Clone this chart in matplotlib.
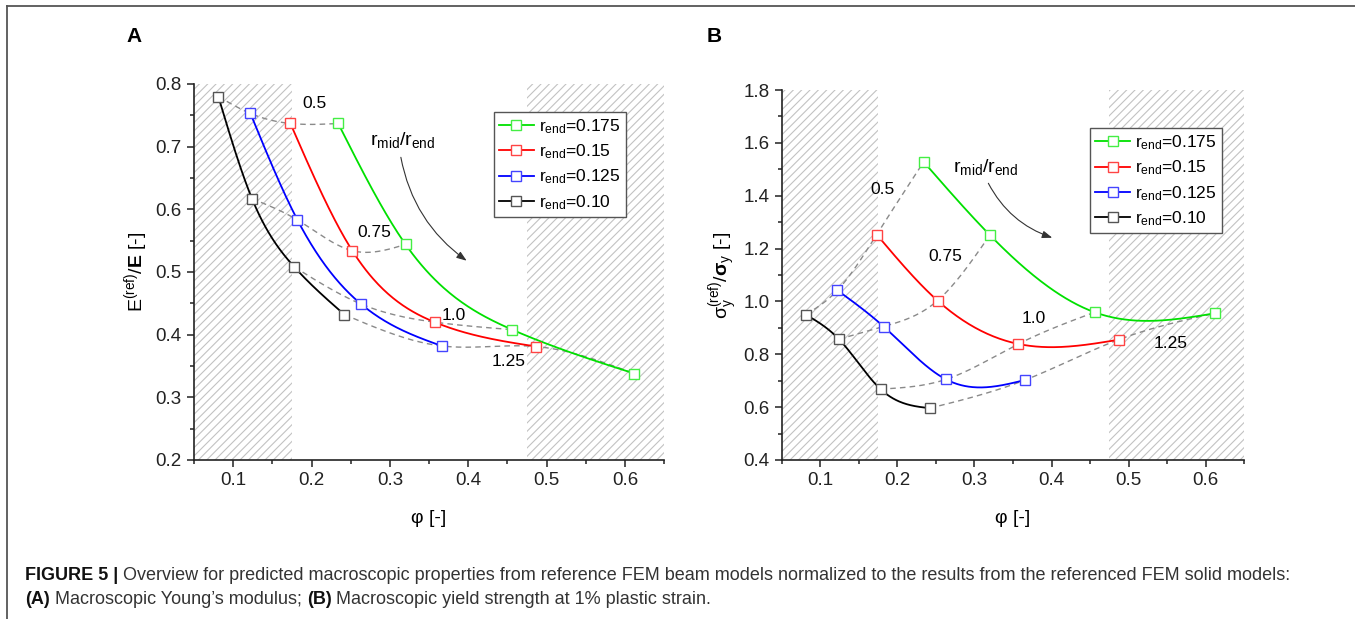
import numpy as np
import matplotlib
matplotlib.use("Agg")
import matplotlib.pyplot as plt
from matplotlib.lines import Line2D

plt.rcParams['font.family'] = ['Liberation Sans', 'DejaVu Sans']
plt.rcParams['mathtext.fontset'] = 'custom'
plt.rcParams['mathtext.rm'] = 'Liberation Sans'
plt.rcParams['mathtext.it'] = 'Liberation Sans:italic'
plt.rcParams['mathtext.bf'] = 'Liberation Sans:bold'
plt.rcParams['hatch.linewidth'] = 0.8

# data (porosity phi, normalized E and sigma_y)
r_end_labels = ["0.175", "0.15", "0.125", "0.10"]
ratio_labels = ["0.5", "0.75", "1.0", "1.25"]

phi_0175 = [0.234, 0.320, 0.456, 0.612]
phi_015 = [0.173, 0.252, 0.357, 0.487]
phi_0125 = [0.122, 0.182, 0.263, 0.366]
phi_010 = [0.081, 0.124, 0.178, 0.242]

E_0175 = [0.737, 0.544, 0.408, 0.338]
E_015 = [0.737, 0.534, 0.420, 0.381]
E_0125 = [0.753, 0.583, 0.449, 0.382]
E_010 = [0.780, 0.617, 0.508, 0.432]

S_0175 = [1.528, 1.251, 0.959, 0.955]
S_015 = [1.253, 1.003, 0.839, 0.855]
S_0125 = [1.042, 0.905, 0.705, 0.703]
S_010 = [0.950, 0.857, 0.668, 0.596]

line_colors = ['#00e000', '#ff0000', '#0000ff', '#000000']
marker_colors = ['#44ee44', '#ff4444', '#4444ff', '#555555']


def spline(x, y, n=200):
    # natural cubic spline, like the smoothed lines in Origin
    x = np.asarray(x, float)
    y = np.asarray(y, float)
    m = len(x)
    h = np.diff(x)
    A = np.zeros((m, m))
    b = np.zeros(m)
    A[0, 0] = A[-1, -1] = 1
    for i in range(1, m - 1):
        A[i, i - 1] = h[i - 1]
        A[i, i] = 2 * (h[i - 1] + h[i])
        A[i, i + 1] = h[i]
        b[i] = 3 * ((y[i + 1] - y[i]) / h[i] - (y[i] - y[i - 1]) / h[i - 1])
    c = np.linalg.solve(A, b)
    xs = np.linspace(x[0], x[-1], n)
    idx = np.clip(np.searchsorted(x, xs) - 1, 0, m - 2)
    dx = xs - x[idx]
    bc = (y[idx + 1] - y[idx]) / h[idx] - h[idx] * (2 * c[idx] + c[idx + 1]) / 3
    d = (c[idx + 1] - c[idx]) / (3 * h[idx])
    return xs, y[idx] + bc * dx + c[idx] * dx ** 2 + d * dx ** 3


fig = plt.figure(figsize=(13.55, 6.19), dpi=100)
axA = fig.add_axes([0.1432, 0.2569, 0.3469, 0.6074])
axB = fig.add_axes([0.5771, 0.2569, 0.3410, 0.5977])


def panel(ax, phis, vals, ylim, ymajor, yminor, ylabel, legend_anchor,
          ratio_pos, text_pos, arrow_start, arrow_end):
    ax.axvspan(0.05, 0.175, facecolor='none', edgecolor='#c2c2c2', hatch='////', lw=0, zorder=0)
    ax.axvspan(0.475, 0.65, facecolor='none', edgecolor='#c2c2c2', hatch='////', lw=0, zorder=0)

    # iso r_mid/r_end dashed lines (order: 0.10, 0.125, 0.15, 0.175)
    for k in range(4):
        px = [p[k] for p in phis[::-1]]
        py = [v[k] for v in vals[::-1]]
        xs, ys = spline(px, py)
        ax.plot(xs, ys, color='#8a8a8a', lw=1, dashes=(4, 3), zorder=2)
        ax.text(ratio_pos[k][0], ratio_pos[k][1], ratio_labels[k], fontsize=12.5,
                ha='center', va='center', zorder=5)

    handles = []
    for p, v, lc, mc, lab in zip(phis, vals, line_colors, marker_colors, r_end_labels):
        xs, ys = spline(p, v)
        ax.plot(xs, ys, color=lc, lw=1.3, zorder=3)
        ax.plot(p, v, ls='none', marker='s', ms=6.5, mfc='white', mec=mc, mew=1, zorder=4)
        handles.append(Line2D([], [], color=lc, lw=1.3, marker='s', ms=6.5, mfc='white', mec=mc, mew=1,
                              label=r'$\mathrm{r_{end}}$=' + lab))

    leg = ax.legend(handles=handles, loc='upper left', bbox_to_anchor=legend_anchor, fontsize=12.5,
                    frameon=True, fancybox=False, edgecolor='#555555', framealpha=1,
                    handlelength=2.0, handletextpad=0.3, labelspacing=0.38, borderpad=0.3,
                    borderaxespad=0)
    leg.get_frame().set_linewidth(1)
    leg.set_zorder(6)

    ax.text(text_pos[0], text_pos[1], r'$\mathrm{r_{mid}/r_{end}}$', fontsize=14,
            ha='center', va='center', zorder=5)
    ax.annotate('', xy=arrow_end, xytext=arrow_start,
                arrowprops=dict(arrowstyle='-|>,head_length=0.6,head_width=0.22', color='#333333',
                                lw=0.8, connectionstyle='arc3,rad=0.2', shrinkA=0, shrinkB=0))

    ax.set_xlim(0.05, 0.65)
    ax.set_ylim(*ylim)
    ax.set_xticks([0.1, 0.2, 0.3, 0.4, 0.5, 0.6])
    ax.set_xticks(np.arange(0.05, 0.651, 0.05), minor=True)
    ax.set_yticks(ymajor)
    ax.set_yticks(yminor, minor=True)
    ax.set_xticklabels(['0.1', '0.2', '0.3', '0.4', '0.5', '0.6'])
    ax.set_yticklabels(['%.1f' % t for t in ymajor])
    ax.spines['top'].set_visible(False)
    ax.spines['right'].set_visible(False)
    for s in ('left', 'bottom'):
        ax.spines[s].set_linewidth(1.2)
        ax.spines[s].set_color('#222222')
    ax.tick_params(which='major', direction='out', length=5, width=1.1, labelsize=13.5, pad=4,
                   colors='#222222')
    ax.tick_params(which='minor', direction='out', length=3, width=1.1, colors='#222222')
    ax.set_xlabel('φ [-]', fontsize=14)
    ax.set_ylabel(ylabel, fontsize=14)


panel(axA, [phi_0175, phi_015, phi_0125, phi_010], [E_0175, E_015, E_0125, E_010],
      (0.2, 0.8), np.round(np.arange(0.2, 0.81, 0.1), 2), np.round(np.arange(0.25, 0.8, 0.1), 2),
      r'$\mathrm{E^{(ref)}}/\mathbf{E}$ [-]', (0.638, 0.926),
      [(0.204, 0.769), (0.280, 0.563), (0.381, 0.431), (0.451, 0.357)],
      (0.316, 0.711), (0.314, 0.683), (0.398, 0.518))
panel(axB, [phi_0175, phi_015, phi_0125, phi_010], [S_0175, S_015, S_0125, S_010],
      (0.4, 1.8), np.round(np.arange(0.4, 1.81, 0.2), 2), np.round(np.arange(0.5, 1.8, 0.2), 2),
      r'$\mathrm{σ_y^{(ref)}}/\mathbf{σ}_\mathrm{y}$ [-]', (0.667, 0.897),
      [(0.180, 1.425), (0.262, 1.169), (0.377, 0.936), (0.555, 0.842)],
      (0.315, 1.507), (0.318, 1.447), (0.401, 1.241))

axA.yaxis.set_label_coords(-0.094, 0.5)
axB.yaxis.set_label_coords(-0.091, 0.5)
axA.xaxis.set_label_coords(0.5, -0.133)
axB.xaxis.set_label_coords(0.5, -0.135)

W, H = 1355, 619
fig.text(134 / W, 1 - 36 / H, 'A', fontsize=15, fontweight='bold', ha='center', va='center')
fig.text(714 / W, 1 - 36 / H, 'B', fontsize=15, fontweight='bold', ha='center', va='center')

# frame lines at top and left
fig.add_artist(Line2D([7 / W, 1], [1 - 6 / H, 1 - 6 / H], color='#555555', lw=1.3))
fig.add_artist(Line2D([7 / W, 7 / W], [0, 1 - 6 / H], color='#555555', lw=1.3))

# caption with bold pieces
renderer = fig.canvas.get_renderer()


def caption(pieces, x0, y):
    x = x0
    for txt, bold in pieces:
        t = fig.text(x, y, txt, fontsize=13.0, fontweight='bold' if bold else 'normal',
                     color='#111111' if bold else '#333333', ha='left', va='center')
        bb = t.get_window_extent(renderer=renderer)
        x += bb.width / W


caption([('FIGURE 5 | ', True),
         ('Overview for predicted macroscopic properties from reference FEM beam models normalized to '
          'the results from the referenced FEM solid models:', False)], 25 / W, 1 - 576 / H)
caption([('(A)', True), (' Macroscopic Young\u2019s modulus; ', False), ('(B)', True),
         (' Macroscopic yield strength at 1% plastic strain.', False)], 25 / W, 1 - 599 / H)

fig.savefig('out.png', dpi=100)
